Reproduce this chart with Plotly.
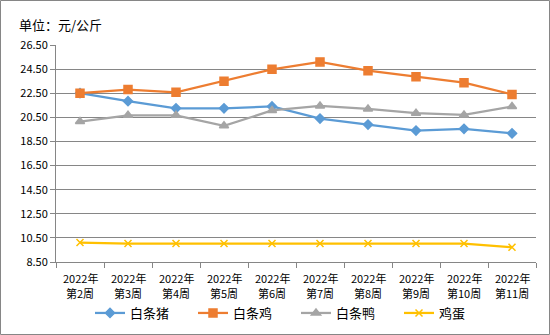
import plotly.graph_objects as go

categories = ["2022年<br>第2周", "2022年<br>第3周", "2022年<br>第4周", "2022年<br>第5周", "2022年<br>第6周",
              "2022年<br>第7周", "2022年<br>第8周", "2022年<br>第9周", "2022年<br>第10周", "2022年<br>第11周"]
pork = [22.50, 21.84, 21.25, 21.25, 21.40, 20.40, 19.90, 19.40, 19.55, 19.17]
chicken = [22.50, 22.80, 22.58, 23.50, 24.48, 25.10, 24.37, 23.87, 23.37, 22.40]
duck = [20.15, 20.67, 20.67, 19.80, 21.07, 21.45, 21.20, 20.84, 20.70, 21.40]
egg = [10.11, 10.03, 10.03, 10.03, 10.03, 10.03, 10.03, 10.03, 10.03, 9.73]
y_ticks = [8.5, 10.5, 12.5, 14.5, 16.5, 18.5, 20.5, 22.5, 24.5, 26.5]

font = "Noto Sans CJK SC"
fig = go.Figure()
series = [
    ("白条猪", pork, "#5B9BD5", "diamond", 7),
    ("白条鸡", chicken, "#ED7D31", "square", 8),
    ("白条鸭", duck, "#A5A5A5", "triangle-up", 8),
    ("鸡蛋", egg, "#FFC000", "x-thin", 7),
]
for name, vals, color, sym, size in series:
    fig.add_trace(go.Scatter(
        x=categories, y=vals, name=name, mode="lines+markers",
        line=dict(color=color, width=2.25),
        marker=dict(symbol=sym, size=size, color=color, line=dict(color=color, width=1.5)),
    ))

L, R, T, B = 56, 14, 45, 73
W, H = 550, 335
pw, ph = W - L - R, H - T - B

annotations = [dict(text="单位：元/公斤", xref="paper", yref="paper",
                    x=(17 - L) / pw, y=(H - B - 25) / ph, xanchor="left", yanchor="middle",
                    showarrow=False, font=dict(size=13, family=font))]
# two-line category labels, one text per line
for cat in categories:
    year, week = cat.split("<br>")
    for txt, ypx in ((year, 278), (week, 293)):
        annotations.append(dict(text=txt, xref="x", x=cat, yref="paper",
                                y=(H - B - ypx) / ph, xanchor="center", yanchor="middle",
                                showarrow=False, font=dict(size=11, family=font)))

fig.update_layout(
    width=W, height=H,
    margin=dict(l=L, r=R, t=T, b=B, autoexpand=False),
    paper_bgcolor="white", plot_bgcolor="white",
    font=dict(family=font, size=10, color="#000000"),
    showlegend=True,
    legend=dict(orientation="h", x=90 / W, xanchor="left", xref="container",
                y=(H - 313) / H, yanchor="middle", yref="container",
                entrywidth=58, entrywidthmode="pixels",
                font=dict(size=13, family=font), tracegroupgap=0),
    xaxis=dict(type="category", showgrid=False, showline=True, linecolor="#868686", linewidth=1,
               ticks="outside", tickson="boundaries", ticklen=5, tickcolor="#868686",
               showticklabels=False, range=[-0.5, 9.5], automargin=False),
    yaxis=dict(range=[8.5, 26.5], tickvals=y_ticks, ticktext=[f"{v:.2f}" for v in y_ticks],
               showgrid=True, gridcolor="#868686", gridwidth=1, showline=True,
               linecolor="#868686", linewidth=1, ticks="outside", ticklen=5, tickcolor="#868686",
               tickfont=dict(size=11, family=font), zeroline=False, automargin=False),
    annotations=annotations,
    shapes=[dict(type="rect", xref="paper", yref="paper",
                 x0=(0.5 - L) / pw, x1=(W - 0.5 - L) / pw,
                 y0=(H - B - (H - 0.5)) / ph, y1=(H - B - 0.5) / ph,
                 line=dict(color="#868686", width=1), fillcolor="rgba(0,0,0,0)", layer="below")],
)
fig.write_html("out.html")
